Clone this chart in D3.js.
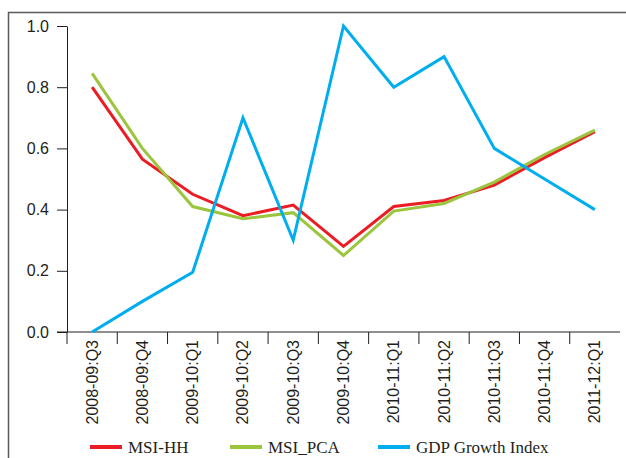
<!DOCTYPE html>
<html>
<head>
<meta charset="utf-8">
<script src="https://cdn.jsdelivr.net/npm/d3@7"></script>
<style>
  body { margin: 0; background: #fff; }
  svg { display: block; }
  text { font-family: "Liberation Serif", "DejaVu Serif", serif; fill: #231f20; }
  .axis text { font-family: "Liberation Sans", Arial, sans-serif; }
</style>
</head>
<body>
<div id="chart"></div>
<script>
// quarters on the x axis
const quarters = ["2008-09:Q3", "2008-09:Q4", "2009-10:Q1", "2009-10:Q2", "2009-10:Q3", "2009-10:Q4",
                  "2010-11:Q1", "2010-11:Q2", "2010-11:Q3", "2010-11:Q4", "2011-12:Q1"]

// series values
const msiHH  = [0.80, 0.565, 0.45, 0.38, 0.415, 0.28, 0.41, 0.43, 0.48, 0.57, 0.655]
const msiPCA = [0.845, 0.60, 0.41, 0.37, 0.39, 0.25, 0.395, 0.42, 0.49, 0.58, 0.66]
const gdpIdx = [0.0, 0.10, 0.195, 0.70, 0.30, 1.0, 0.80, 0.90, 0.60, 0.50, 0.40]

const yTicks = [0, 0.2, 0.4, 0.6, 0.8, 1.0]

const seriesNames  = ["MSI-HH", "MSI_PCA", "GDP Growth Index"]
const seriesColors = ["#ec1c24", "#9bc53d", "#00aeef"]
const seriesValues = [msiHH, msiPCA, gdpIdx]

const width = 626
const height = 458

const svg = d3.select('#chart').append('svg').attr('width', width).attr('height', height)

// the boxed frame (only top and left edges are visible in the crop)
svg.append('path')
   .attr('d', 'M8.5,' + height + 'V12.5H' + width)
   .attr('fill', 'none')
   .attr('stroke', '#5a5a5a')
   .attr('stroke-width', 1.5)

// scales
const xScale = d3.scaleBand().domain(quarters).range([67, 620])
const yScale = d3.scaleLinear().domain([0, 1]).range([332, 26])

// y axis
const yAxis = d3.axisLeft(yScale).tickValues(yTicks).tickFormat(d3.format('.1f')).tickSize(10).tickSizeOuter(0)
const gy = svg.append('g').attr('class', 'axis').attr('transform', 'translate(67,0)').call(yAxis)
gy.select('.domain').attr('stroke', '#231f20')
gy.selectAll('.tick line').attr('stroke', '#231f20')
gy.selectAll('.tick text').attr('x', -18).attr('font-size', 16).attr('fill', '#231f20')

// x axis: ticks sit on band boundaries
const gx = svg.append('g').attr('class', 'axis').attr('transform', 'translate(0,332)')
gx.append('line').attr('x1', 57).attr('x2', 620).attr('stroke', '#231f20')
gx.selectAll('line.tk').data(quarters).enter().append('line')
  .attr('class', 'tk')
  .attr('x1', d => xScale(d)).attr('x2', d => xScale(d))
  .attr('y1', 0).attr('y2', 12)
  .attr('stroke', '#231f20')
gx.selectAll('text').data(quarters).enter().append('text')
  .attr('transform', d => 'translate(' + (xScale(d) + xScale.bandwidth() / 2 + 5.5) + ',8) rotate(-90)')
  .attr('text-anchor', 'end')
  .attr('font-size', 16)
  .text(d => d)

// lines
const line = d3.line()
  .x((d, i) => xScale(quarters[i]) + xScale.bandwidth() / 2)
  .y(d => yScale(d))

seriesValues.forEach(function(vals, k) {
  svg.append('path')
     .datum(vals)
     .attr('d', line)
     .attr('fill', 'none')
     .attr('stroke', seriesColors[k])
     .attr('stroke-width', 3)
})

// legend
const legendX = [90, 230, 378]
const lg = svg.append('g').attr('transform', 'translate(0,447)')
seriesNames.forEach(function(name, k) {
  lg.append('line')
    .attr('x1', legendX[k]).attr('x2', legendX[k] + 32)
    .attr('stroke', seriesColors[k]).attr('stroke-width', 4)
  lg.append('text')
    .attr('x', legendX[k] + 38).attr('y', 6)
    .attr('font-size', 17)
    .text(name)
})
</script>
</body>
</html>
